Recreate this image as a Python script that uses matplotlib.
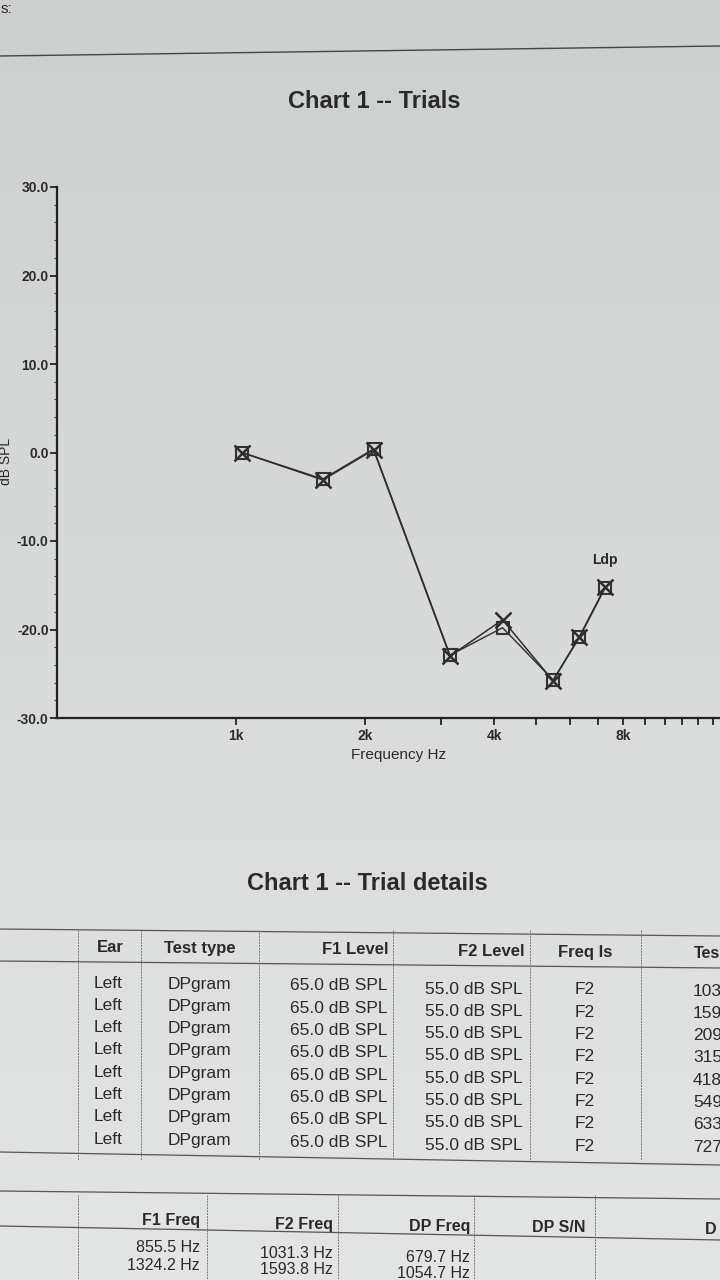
import matplotlib
matplotlib.use("Agg")
import matplotlib.pyplot as plt
import numpy as np
from matplotlib.lines import Line2D
from matplotlib.ticker import FixedLocator, MultipleLocator, FuncFormatter

plt.rcParams["font.family"] = ["Liberation Sans", "DejaVu Sans"]

# chart data
test_freq = [1031.3, 1593.8, 2093.8, 3156.3, 4187.5, 5492.2, 6328.1, 7265.6]
ldp_a = [0.0, -3.1, 0.3, -23.0, -18.9, -25.8, -20.8, -15.2]
ldp_b = [0.0, -3.0, 0.4, -22.9, -19.8, -25.7, -20.9, -15.3]
x_labelled = [1000, 2000, 4000, 8000]
x_label_text = ["1k", "2k", "4k", "8k"]

# trial details table (right column is cut by the page edge)
ear = ["Left"] * 8
test_type = ["DPgram"] * 8
f1_level = ["65.0 dB SPL"] * 8
f2_level = ["55.0 dB SPL"] * 8
freq_is = ["F2"] * 8
test_freq_txt = ["103", "159", "209", "315", "418", "549", "633", "727"]

# second table (only first rows visible)
f1_freq = ["855.5 Hz", "1324.2 Hz"]
f2_freq = ["1031.3 Hz", "1593.8 Hz"]
dp_freq = ["679.7 Hz", "1054.7 Hz"]

W, H = 720, 1280
fig = plt.figure(figsize=(7.2, 12.8), dpi=100)

# paper shading: greyer at the top, lighter further down
bg = fig.add_axes([0, 0, 1, 1], zorder=-10)
t = np.linspace(0, 1, 256)[:, None, None]
top_c = np.array([0.80, 0.815, 0.81])
bot_c = np.array([0.89, 0.90, 0.895])
shade = (top_c * (1 - t) + bot_c * t) * np.ones((1, 4, 1))
bg.imshow(shade, aspect="auto", extent=[0, 1, 0, 1], origin="upper")
bg.axis("off")


def fx(x):
    return x / W


def fy(y):
    return 1 - y / H


def hline(x0, x1, y0, y1=None, lw=0.8, color="#555555"):
    y1 = y0 if y1 is None else y1
    fig.add_artist(Line2D([fx(x0), fx(x1)], [fy(y0), fy(y1)], lw=lw, color=color))


def vline(x, y0, y1, lw=0.7, color="#777777"):
    fig.add_artist(Line2D([fx(x), fx(x)], [fy(y0), fy(y1)], lw=lw, color=color,
                          ls=(0, (2, 1))))


def txt(x, y, s, size=11, ha="center", weight="normal", color="#2a2a2a", **kw):
    fig.text(fx(x), fy(y), s, ha=ha, va="center", fontsize=size, fontweight=weight,
             color=color, **kw)


# page header
txt(1, 9, "s:", size=11, ha="left")
hline(0, 720, 56, 46, lw=1.0, color="#444444")
txt(374, 101, "Chart 1 -- Trials", size=17, weight="bold")

# chart
ax = fig.add_axes([fx(57), fy(718), fx(760) - fx(57), fy(187) - fy(718)])
ax.set_facecolor("none")
ax.set_xscale("log")
ax.set_xlim(382, 16700)
ax.set_ylim(-30, 30)
for s in ["top", "right"]:
    ax.spines[s].set_visible(False)
for s in ["left", "bottom"]:
    ax.spines[s].set_linewidth(1.6)
    ax.spines[s].set_color("#222222")

ax.plot(test_freq, ldp_b, color="#3a3a3a", lw=1.1, marker="s", ms=8,
        mfc="none", mec="#333333", mew=1.5, clip_on=False)
ax.plot(test_freq, ldp_a, color="#2e2e2e", lw=1.1, marker="x", ms=11,
        mec="#2e2e2e", mew=1.8, clip_on=False)
ax.text(test_freq[-1], ldp_a[-1] + 3.0, "Ldp", ha="center", va="center",
        fontsize=10, fontweight="bold", color="#2a2a2a")

ax.xaxis.set_major_locator(FixedLocator([k * 1000 for k in range(1, 17)]))
ax.xaxis.set_minor_locator(FixedLocator([]))
ax.xaxis.set_major_formatter(FuncFormatter(
    lambda v, p: x_label_text[x_labelled.index(round(v))] if round(v) in x_labelled else ""))
ax.yaxis.set_major_locator(MultipleLocator(10))
ax.yaxis.set_minor_locator(MultipleLocator(2))
ax.yaxis.set_major_formatter(FuncFormatter(lambda v, p: f"{v:.1f}"))
ax.tick_params(axis="both", which="major", length=5, width=1.3, color="#222222",
               labelsize=10, labelcolor="#2a2a2a", pad=1)
ax.tick_params(axis="x", which="major", pad=3)
ax.tick_params(axis="y", which="minor", length=2.5, width=0.8, color="#444444")
for lab in ax.get_xticklabels() + ax.get_yticklabels():
    lab.set_fontweight("bold")

txt(399, 755, "Frequency Hz", size=11)
txt(6, 461, "dB SPL", size=10, rotation=90)

# trial details table
txt(367, 884, "Chart 1 -- Trial details", size=17, weight="bold")
hline(0, 720, 929, 936, lw=0.9)
hline(0, 720, 961, 968, lw=0.9)
hline(0, 720, 1152, 1165, lw=0.9)
for x in [78, 141, 259, 393, 530, 641]:
    vline(x, 930, 1160)

header_y = 947
txt(110, header_y, "Ear", size=12, weight="bold")
txt(200, header_y + 1, "Test type", size=12, weight="bold")
txt(388, header_y + 2, "F1 Level", size=12, weight="bold", ha="right")
txt(524, header_y + 4, "F2 Level", size=12, weight="bold", ha="right")
txt(585, header_y + 5, "Freq Is", size=12, weight="bold")
txt(694, header_y + 6, "Tes", size=11.5, weight="bold", ha="left")

for i in range(len(ear)):
    y = 983 + i * 22.3
    txt(108, y, ear[i], size=12.5)
    txt(199, y + 1, test_type[i], size=12.5)
    txt(388, y + 3, f1_level[i], size=12.5, ha="right")
    txt(523, y + 6, f2_level[i], size=12.5, ha="right")
    txt(585, y + 7, freq_is[i], size=12.5)
    txt(693, y + 8, test_freq_txt[i], size=12.5, ha="left")

# second table
hline(0, 720, 1191, 1199, lw=0.9)
hline(0, 720, 1226, 1240, lw=0.9)
for x in [78, 207, 338, 474, 595]:
    vline(x, 1195, 1280)
txt(200, 1221, "F1 Freq", size=11.5, weight="bold", ha="right")
txt(333, 1224, "F2 Freq", size=11.5, weight="bold", ha="right")
txt(470, 1226, "DP Freq", size=11.5, weight="bold", ha="right")
txt(585, 1228, "DP S/N", size=11.5, weight="bold", ha="right")
txt(705, 1230, "D", size=11.5, weight="bold", ha="left")
for i in range(len(f1_freq)):
    y = 1248 + i * 17
    txt(200, y, f1_freq[i], size=11.5, ha="right")
    txt(333, y + 5, f2_freq[i], size=11.5, ha="right")
    txt(470, y + 9, dp_freq[i], size=11.5, ha="right")

fig.savefig("out.png", dpi=100)
